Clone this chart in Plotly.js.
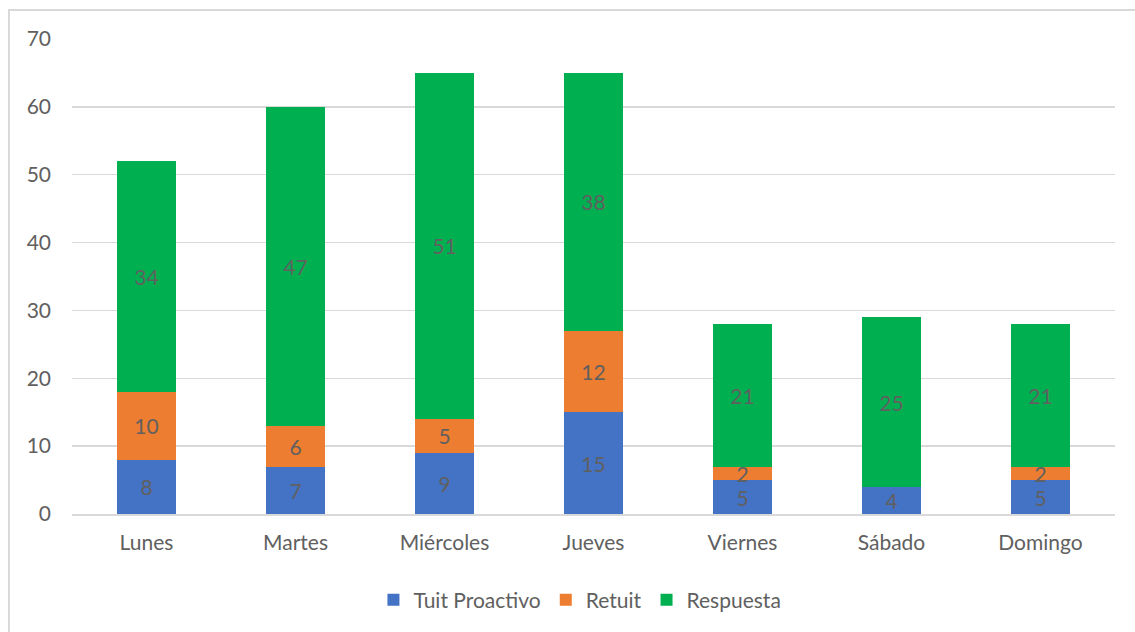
<!DOCTYPE html>
<html>
<head>
<meta charset="utf-8">
<script src="https://cdn.plot.ly/plotly-3.0.1.min.js"></script>
<style>
  html, body { margin: 0; padding: 0; background: #ffffff; }
  #wrap { position: relative; width: 1135px; height: 632px; overflow: hidden; }
  #chart { position: absolute; left: 0; top: 0; width: 1135px; height: 632px; }
  #frame { position: absolute; left: 8px; top: 9px; width: 1200px; height: 700px;
           border: 2px solid #d9d9d9; pointer-events: none; }
</style>
</head>
<body>
<div id="wrap">
  <div id="chart"></div>
  <div id="frame"></div>
</div>
<script>
// Weekly tweet activity by type
const dias = ['Lunes', 'Martes', 'Miércoles', 'Jueves', 'Viernes', 'Sábado', 'Domingo'];
const tuitProactivo = [8, 7, 9, 15, 5, 4, 5];
const retuit = [10, 6, 5, 12, 2, 0, 2];
const respuesta = [34, 47, 51, 38, 21, 25, 21];

const labelFont = { family: 'Lato, "Open Sans", sans-serif', size: 21, color: '#606060' };

function serie(name, values, color) {
  return {
    type: 'bar',
    name: name,
    x: dias,
    y: values,
    text: values.map(v => (v ? String(v) : '')),
    texttemplate: '%{text}',
    textposition: 'inside',
    insidetextanchor: 'middle',
    textangle: 0,
    constraintext: 'none',
    insidetextfont: labelFont,
    marker: { color: color, line: { width: 0 } },
    hoverinfo: 'x+y+name'
  };
}

const data = [
  serie('Tuit Proactivo', tuitProactivo, '#4472C4'),
  serie('Retuit', retuit, '#ED7D31'),
  serie('Respuesta', respuesta, '#00B050')
];

const layout = {
  width: 1135,
  height: 632,
  barmode: 'stack',
  bargap: 0.6,
  paper_bgcolor: '#ffffff',
  plot_bgcolor: '#ffffff',
  margin: { l: 72, r: 20, t: 39, b: 117 },
  font: labelFont,
  showlegend: true,
  legend: {
    orientation: 'h',
    x: 0.487, xanchor: 'center',
    y: -0.179, yanchor: 'middle',
    font: labelFont,
    traceorder: 'normal',
    itemwidth: 30
  },
  xaxis: {
    type: 'category',
    showgrid: false,
    showline: true,
    linecolor: '#d9d9d9',
    linewidth: 1.5,
    ticks: '',
    tickfont: labelFont,
    ticklabelstandoff: 9,
    fixedrange: true
  },
  yaxis: {
    range: [0, 70],
    dtick: 10,
    showgrid: true,
    gridcolor: '#d9d9d9',
    gridwidth: 1.5,
    zeroline: false,
    showline: false,
    ticks: '',
    tickfont: labelFont,
    ticklabelstandoff: 20,
    fixedrange: true
  }
};

Plotly.newPlot('chart', data, layout, { displayModeBar: false, staticPlot: true });
</script>
</body>
</html>
